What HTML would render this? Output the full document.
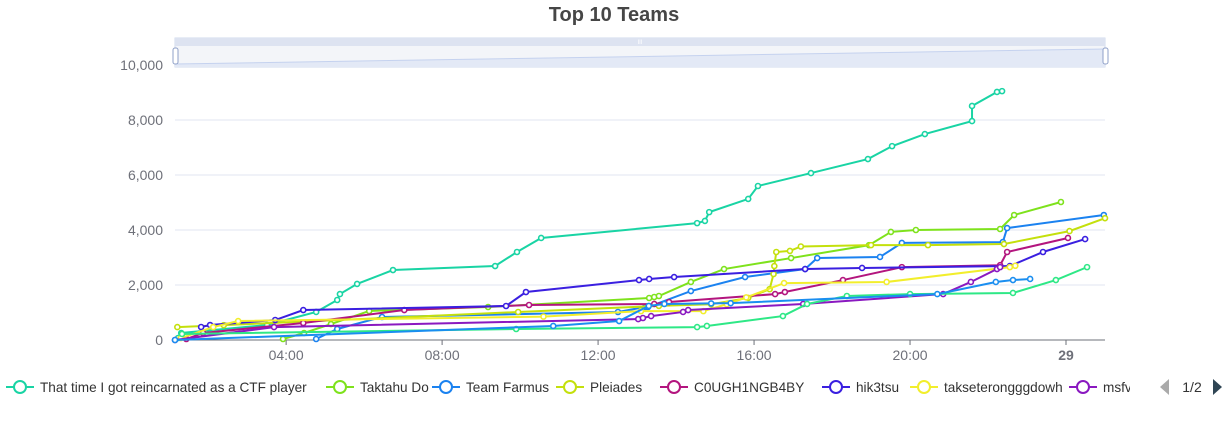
<!DOCTYPE html>
<html><head><meta charset="utf-8"><style>
body{margin:0;background:#fff;width:1227px;height:440px;overflow:hidden;font-family:"Liberation Sans",sans-serif}
svg{position:absolute;left:0;top:0}
</style></head><body>
<svg id="c" width="1227" height="440"></svg>
<script>
const teamNames=["That time I got reincarnated as a CTF player","Taktahu Do","Team Farmus","Pleiades","C0UGH1NGB4BY","hik3tsu","takseterongggdowh","msfv","team-9","team-10"];
const teamColors=["#19d4a4","#7ee21c","#1b82f0","#c4e00c","#b3157e","#3a1fe0","#f2ee2c","#8a19c0","#2ee886","#1a8ef0"];
const yTicks=[0,2000,4000,6000,8000,10000];
const yTickLabels=["0","2,000","4,000","6,000","8,000","10,000"];
const xTicks=[4,8,12,16,20,24];
const xTickLabels=["04:00","08:00","12:00","16:00","20:00","29"];
const s0=[[1.23,73],[1.31,255],[3.51,545],[4.77,1020],[5.31,1455],[5.38,1670],[5.82,2040],[6.74,2545],[9.36,2690],[9.92,3200],[10.54,3710],[14.54,4250],[14.74,4330],[14.85,4650],[15.85,5130],[16.1,5600],[17.46,6070],[18.92,6580],[19.54,7050],[20.38,7490],[21.59,7960],[21.59,8510],[22.23,9020],[22.36,9050]];
const s1=[[3.92,36],[4.46,255],[5.15,580],[6.13,1055],[9.18,1200],[13.31,1527],[13.44,1564],[13.56,1600],[14.38,2110],[15.23,2580],[16.95,2980],[18.95,3450],[19.51,3930],[20.15,4000],[22.31,4036],[22.67,4545],[23.87,5018]];
const s2=[[4.77,36],[5.31,400],[6.46,836],[12.51,1018],[13.21,1200],[13.28,1200],[14.38,1780],[15.77,2290],[17.31,2580],[17.62,2980],[19.23,3020],[19.79,3530],[22.38,3560],[22.49,4070],[24.97,4545]];
const s3=[[1.21,470],[2.4,540],[9.95,1018],[13.56,1240],[14.9,1300],[15.85,1530],[16.4,1850],[16.5,2400],[16.52,2690],[16.57,3200],[16.92,3240],[17.2,3400],[19.0,3450],[20.46,3450],[22.41,3490],[24.09,3960],[25.0,4430]];
const s4=[[1.44,36],[1.87,255],[4.44,618],[7.03,1090],[10.23,1273],[13.44,1310],[13.82,1380],[16.54,1670],[16.79,1745],[18.28,2180],[19.79,2650],[22.31,2720],[22.49,3200],[24.05,3710]];
const s5=[[1.82,473],[2.05,545],[3.72,727],[4.44,1090],[9.64,1236],[10.15,1745],[13.05,2180],[13.31,2220],[13.95,2290],[17.31,2580],[18.77,2620],[22.56,2690],[23.41,3200],[24.49,3670]];
const s6=[[1.3,70],[2.13,470],[2.77,690],[10.6,850],[13.1,1050],[14.7,1050],[15.3,1300],[15.8,1550],[16.77,2070],[19.4,2110],[22.56,2650],[22.7,2700]];
const s7=[[1.15,0],[3.69,470],[13.03,760],[13.15,800],[13.36,870],[14.18,1020],[14.31,1090],[17.26,1310],[20.85,1670],[21.56,2110],[22.23,2580],[22.31,2650]];
const s8=[[1.33,220],[9.9,400],[14.54,470],[14.79,510],[16.74,870],[17.36,1310],[18.38,1600],[20.0,1670],[22.64,1710],[23.74,2180],[24.54,2650]];
const s9=[[1.15,0],[10.85,510],[12.54,690],[13.3,1240],[13.7,1310],[14.9,1330],[15.4,1340],[20.7,1670],[22.2,2110],[22.64,2180],[23.08,2220]];
const seriesData=[s0,s1,s2,s3,s4,s5,s6,s7,s8,s9];

const NS="http://www.w3.org/2000/svg";
const svg=document.getElementById('c');
const L=175,R=1105,T=65,B=340,X0=1.15,X1=25,YMAX=10000;
const xs=h=>L+(h-X0)/(X1-X0)*(R-L);
const ys=v=>B-v/YMAX*(B-T);
function mk(tag,attrs,parent){const e=document.createElementNS(NS,tag);for(const k in attrs)e.setAttribute(k,attrs[k]);(parent||svg).appendChild(e);return e;}

let t=mk('text',{x:614,y:21,'text-anchor':'middle','font-size':20,'font-weight':'bold',fill:'#464646'});
t.textContent="Top 10 Teams";



yTicks.forEach((v,i)=>{
  const g=mk('line',{x1:L,x2:R,y1:ys(v),y2:ys(v),stroke:i?'#e0e6f1':'#6e7079','stroke-width':1});
  
  
  const tx=mk('text',{x:163,y:ys(v)+5,'text-anchor':'end','font-size':14,fill:'#6e7079'});
  tx.textContent=yTickLabels[i];
  
  
});
xTicks.forEach((h,i)=>{
  const tk=mk('line',{x1:xs(h),x2:xs(h),y1:B,y2:B+5,stroke:'#6e7079'});
  
  
  const tx=mk('text',{x:xs(h),y:B+20,'text-anchor':'middle','font-size':14,fill:'#6e7079','font-weight':i==5?'bold':'normal'});
  tx.textContent=xTickLabels[i];
  
  
});

const dz=mk('g',{});


mk('rect',{x:L,y:38,width:R-L,height:29,fill:'#f3f5f9',stroke:'#d2dbee'},dz);
mk('rect',{x:L,y:38,width:R-L,height:8,fill:'#dde3f1'},dz);
mk('path',{d:`M${L} 64 L${R} 49 L${R} 67 L${L} 67Z`,fill:'#e3e9f6'},dz);
mk('line',{x1:L,y1:64,x2:R,y2:49,stroke:'#c5d2ef'},dz);
mk('rect',{x:L-2,y:48,width:5,height:16,rx:2,fill:'#fff',stroke:'#8fa0c8'},dz);
mk('rect',{x:R-2,y:48,width:5,height:16,rx:2,fill:'#fff',stroke:'#8fa0c8'},dz);
mk('text',{x:640,y:44,'text-anchor':'middle','font-size':6,fill:'#fff'},dz).textContent="III";

seriesData.forEach((d,si)=>{
  const g=mk('g',{});
  
  
  mk('polyline',{points:d.map(p=>xs(p[0])+','+ys(p[1])).join(' '),fill:'none',stroke:teamColors[si],'stroke-width':2},g);
  d.forEach(p=>{
    const c=mk('circle',{cx:xs(p[0]),cy:ys(p[1]),r:2.5,fill:'#fff',stroke:teamColors[si],'stroke-width':1.6},g);
    
    
  });
});

const legX=[6,326,432,556,660,822,910,1069];
const cp=mk('clipPath',{id:'lc'});mk('rect',{x:0,y:370,width:1130,height:40},cp);
const lg=mk('g',{'clip-path':'url(#lc)'});


legX.forEach((x,i)=>{
  const e=mk('g',{},lg);
  
  
  mk('line',{x1:x,x2:x+28,y1:387,y2:387,stroke:teamColors[i],'stroke-width':2},e);
  mk('circle',{cx:x+14,cy:387,r:6,fill:'#fff',stroke:teamColors[i],'stroke-width':2},e);
  const tx=mk('text',{x:x+34,y:392,'font-size':13.6,fill:'#333'},e);
  tx.textContent=teamNames[i];
});
const pa=mk('path',{d:'M1169 379 L1160 387 L1169 395Z',fill:'#aaa'});


const pt=mk('text',{x:1192,y:392,'text-anchor':'middle','font-size':14,fill:'#333'});
pt.textContent="1/2";


const na=mk('path',{d:'M1213 379 L1222 387 L1213 395Z',fill:'#2f4554'});


</script>
</body></html>
